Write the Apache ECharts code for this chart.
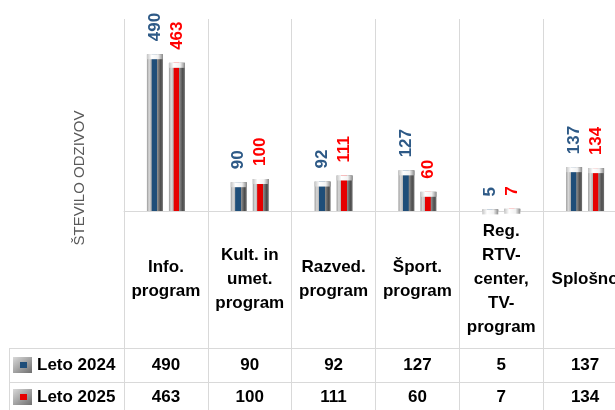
<!DOCTYPE html>
<html>
<head>
<meta charset="utf-8">
<script src="https://cdn.jsdelivr.net/npm/echarts@6/dist/echarts.min.js"></script>
<style>
  html, body { margin: 0; padding: 0; background: #fff; }
  #main { width: 615px; height: 410px; }
</style>
</head>
<body>
<div id="main"></div>
<script>
// podatki
const categories = ['Info.\nprogram', 'Kult. in\numet.\nprogram', 'Razved.\nprogram', 'Šport.\nprogram', 'Reg.\nRTV-\ncenter,\nTV-\nprogram', 'Splošno'];
const leto2024 = [490, 90, 92, 127, 5, 137];
const leto2025 = [463, 100, 111, 60, 7, 134];
const seriesNames = ['Leto 2024', 'Leto 2025'];
const yMax = 600;

const blue = '#1f4e79';
const red = '#e60000';
const gridColor = '#d9d9d9';
const font = 'Liberation Sans';

let myChart = echarts.init(document.getElementById('main'));

// valj (cylinder) videz stolpcev
function cylinder(c) {
    return new echarts.graphic.LinearGradient(0, 0, 1, 0, [
        { offset: 0, color: '#9a9a9a' },
        { offset: 0.14, color: '#d9d9d9' },
        { offset: 0.28, color: '#b5b5b5' },
        { offset: 0.3, color: c },
        { offset: 0.62, color: c },
        { offset: 0.66, color: '#8c8c8c' },
        { offset: 0.86, color: '#4d4d4d' },
        { offset: 1, color: '#707070' }
    ]);
}
const capColor = new echarts.graphic.LinearGradient(0, 0, 1, 0, [
    { offset: 0, color: '#c4c4c4' },
    { offset: 0.3, color: '#ffffff' },
    { offset: 0.7, color: '#f2f2f2' },
    { offset: 1, color: '#8c8c8c' }
]);

// ikona legende: siv kvadrat z barvnim jedrom
function legendIcon(c) {
    const svg = '<svg xmlns="http://www.w3.org/2000/svg" width="19" height="16">' +
        '<defs><linearGradient id="g" x1="0" y1="0" x2="1" y2="1">' +
        '<stop offset="0" stop-color="#d9d9d9"/><stop offset="1" stop-color="#6f6f6f"/></linearGradient></defs>' +
        '<rect width="19" height="16" fill="url(#g)"/>' +
        '<rect x="7" y="5" width="7" height="6" fill="' + c + '"/></svg>';
    return 'image://data:image/svg+xml;charset=utf-8,' + encodeURIComponent(svg);
}

function tableAxis(gridIndex, margin, formatter) {
    return {
        type: 'category',
        gridIndex: gridIndex,
        data: categories,
        position: 'bottom',
        axisLine: { show: true, lineStyle: { color: gridColor } },
        axisTick: { show: false },
        splitLine: { show: true, interval: 0, lineStyle: { color: gridColor } },
        axisLabel: {
            show: true,
            inside: true,
            interval: 0,
            hideOverlap: false,
            margin: margin,
            verticalAlign: 'middle',
            align: 'center',
            color: '#000',
            fontFamily: font,
            fontWeight: 'bold',
            fontSize: 17,
            lineHeight: 24,
            formatter: formatter
        }
    };
}

function grid(top, height) {
    return { left: 124, top: top, width: 503, height: height, outerBoundsMode: 'none' };
}

let option = {
    animation: false,
    textStyle: { fontFamily: font },
    grid: [grid(19, 192), grid(211, 137), grid(348, 34), grid(382, 50)],
    legend: {
        orient: 'vertical',
        left: 13,
        top: 355,
        padding: 0,
        itemWidth: 19,
        itemHeight: 16,
        itemGap: 12,
        textStyle: { fontFamily: font, fontWeight: 'bold', fontSize: 17, lineHeight: 20, color: '#000' },
        data: [
            { name: seriesNames[0], icon: legendIcon(blue) },
            { name: seriesNames[1], icon: legendIcon(red) }
        ]
    },
    xAxis: [
        {
            type: 'category',
            gridIndex: 0,
            data: categories,
            axisLine: { show: true, lineStyle: { color: gridColor } },
            axisTick: { show: false },
            axisLabel: { show: false },
            splitLine: { show: true, interval: 0, lineStyle: { color: gridColor } }
        },
        tableAxis(1, 68.5, null),
        tableAxis(2, 17, (v, i) => String(leto2024[i])),
        tableAxis(3, 35, (v, i) => String(leto2025[i]))
    ],
    yAxis: [
        { type: 'value', gridIndex: 0, min: 0, max: yMax, show: false },
        { type: 'value', gridIndex: 1, show: false },
        { type: 'value', gridIndex: 2, show: false },
        { type: 'value', gridIndex: 3, show: false }
    ],
    series: [
        {
            name: seriesNames[0],
            type: 'bar',
            barWidth: 16,
            barGap: '37.5%',
            data: leto2024,
            itemStyle: { color: cylinder(blue) },
            label: {
                show: true, position: 'top', rotate: 90, align: 'left', verticalAlign: 'middle',
                distance: 13, color: '#2e5a87', fontWeight: 'bold', fontSize: 17, fontFamily: font
            }
        },
        {
            name: seriesNames[1],
            type: 'bar',
            barWidth: 16,
            barGap: '37.5%',
            data: leto2025,
            itemStyle: { color: cylinder(red) },
            label: {
                show: true, position: 'top', rotate: 90, align: 'left', verticalAlign: 'middle',
                distance: 13, color: '#ff0000', fontWeight: 'bold', fontSize: 17, fontFamily: font
            }
        },
        {
            name: 'cap2024',
            type: 'pictorialBar',
            barWidth: 16,
            barGap: '37.5%',
            symbol: 'rect',
            symbolSize: [16, 5],
            symbolPosition: 'end',
            z: 3,
            data: leto2024,
            itemStyle: { color: capColor }
        },
        {
            name: 'cap2025',
            type: 'pictorialBar',
            barWidth: 16,
            barGap: '37.5%',
            symbol: 'rect',
            symbolSize: [16, 5],
            symbolPosition: 'end',
            z: 3,
            data: leto2025,
            itemStyle: { color: capColor }
        }
    ],
    graphic: [
        {
            type: 'text', x: 80, y: 178, rotation: Math.PI / 2,
            style: { text: 'ŠTEVILO ODZIVOV', fill: '#595959', font: '15px "Liberation Sans"', align: 'center', verticalAlign: 'middle' }
        },
        { type: 'line', shape: { x1: 9, y1: 348.5, x2: 124, y2: 348.5 }, style: { stroke: gridColor } },
        { type: 'line', shape: { x1: 9, y1: 382.5, x2: 124, y2: 382.5 }, style: { stroke: gridColor } },
        { type: 'line', shape: { x1: 9.5, y1: 348, x2: 9.5, y2: 410 }, style: { stroke: gridColor } }
    ]
};

myChart.setOption(option);
</script>
</body>
</html>
